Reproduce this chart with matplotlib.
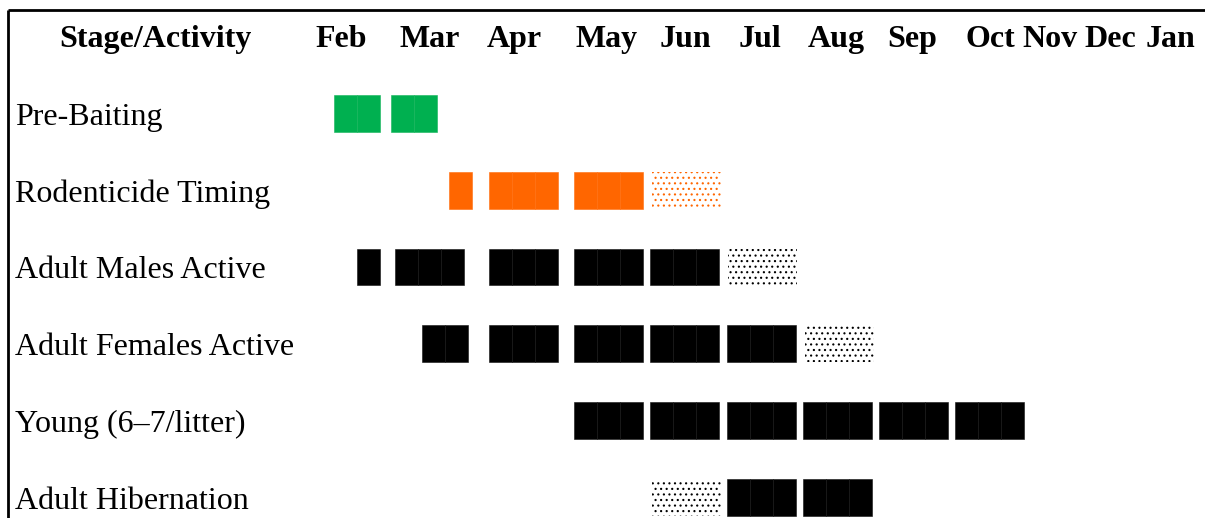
import numpy as np
import matplotlib.pyplot as plt

plt.rcParams['font.family'] = ['Liberation Serif', 'DejaVu Serif']
plt.rcParams['hatch.linewidth'] = 0.8

# data
stages = ["Pre-Baiting", "Rodenticide Timing", "Adult Males Active",
          "Adult Females Active", "Young (6\u20137/litter)", "Adult Hibernation"]
months = ["Feb", "Mar", "Apr", "May", "Jun", "Jul", "Aug", "Sep", "Oct",
          "Nov", "Dec", "Jan"]
stage_colors = ["#00b050", "#ff6600", "#000000", "#000000", "#000000", "#000000"]

# blocks per stage: (start week, number of weeks, dotted?)
prebait = [(1.0, 2, False), (3.48, 2, False)]
rodenticide = [(6.0, 1, False), (7.74, 3, False), (11.43, 3, False), (14.83, 3, True)]
males = [(2.0, 1, False), (3.65, 3, False), (7.74, 3, False), (11.43, 3, False),
         (14.74, 3, False), (18.13, 3, True)]
females = [(4.83, 2, False), (7.74, 3, False), (11.43, 3, False), (14.74, 3, False),
           (18.09, 3, False), (21.48, 3, True)]
young = [(11.43, 3, False), (14.74, 3, False), (18.09, 3, False), (21.39, 3, False),
         (24.70, 3, False), (28.0, 3, False)]
hibernation = [(14.83, 3, True), (18.09, 3, False), (21.39, 3, False)]
blocks = [prebait, rodenticide, males, females, young, hibernation]

# layout (header label centres, in weeks)
month_pos = [1.33, 5.15, 8.85, 12.85, 16.26, 19.54, 22.85, 26.15, 29.52,
             32.13, 34.74, 37.35]
edge_cols = {"#00b050": "#14b45a", "#ff6600": "#ff6d0c", "#000000": "#121212"}

fig = plt.figure(figsize=(12.05, 5.18), dpi=100)
ax = fig.add_axes([0, 0, 1, 1])
ax.set_xlim(-13.52, 38.87)
ax.set_ylim(5.27, -1.478)
ax.axis('off')

h = 0.48
for i, (stage, col) in enumerate(zip(stages, stage_colors)):
    ax.text(-12.87, i + 0.15, stage, fontsize=23, va='baseline', ha='left')
    for start, n, dotted in blocks[i]:
        if dotted:
            ax.bar(start, h, width=n, bottom=i - h / 2, align='edge',
                   facecolor='white', edgecolor=col, hatch='...', linewidth=0)
        else:
            ax.bar(start + np.arange(n), h, width=1, bottom=i - h / 2, align='edge',
                   color=col, edgecolor=edge_cols[col], linewidth=0.4)

# header
ax.text(-6.78, -0.866, "Stage/Activity", fontsize=23, fontweight='bold',
        ha='center', va='baseline')
for m, x in zip(months, month_pos):
    ax.text(x, -0.866, m, fontsize=23, fontweight='bold', ha='center', va='baseline')

# table borders
ax.plot([-13.17, 38.87], [-1.348, -1.348], color='black', lw=2.0,
        solid_capstyle='butt')
ax.plot([-13.17, -13.17], [-1.348, 5.27], color='black', lw=2.0,
        solid_capstyle='butt')

fig.savefig('out.png', dpi=100)
